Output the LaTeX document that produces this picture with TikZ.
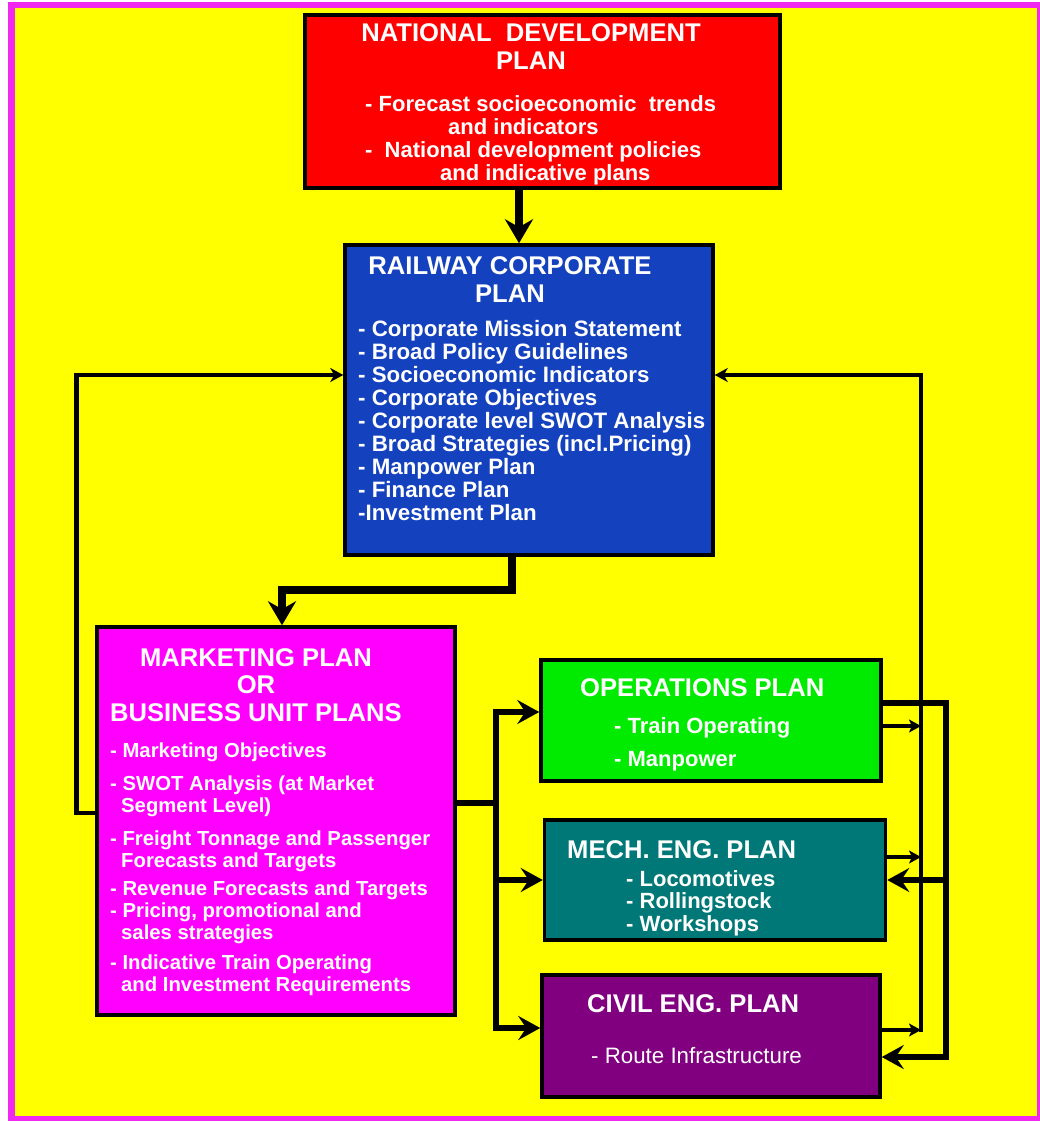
\documentclass[tikz,border=0pt]{standalone}
\usepackage{fontspec}
\setmainfont{Liberation Sans}
\usetikzlibrary{arrows.meta}

\definecolor{framemag}{RGB}{240,40,240}
\definecolor{bgyellow}{RGB}{255,255,0}
\definecolor{ndpred}{RGB}{255,0,0}
\definecolor{rcpblue}{RGB}{20,65,190}
\definecolor{mktmag}{RGB}{255,0,255}
\definecolor{opsgreen}{RGB}{0,235,0}
\definecolor{mechteal}{RGB}{0,120,120}
\definecolor{civpurple}{RGB}{128,0,128}

\tikzset{
  planbox/.style={draw=black, line width=3.5pt, inner sep=0pt},
  headtxt/.style={text=white, font=\bfseries\fontsize{25.6}{28}\selectfont, inner sep=0pt, align=center, anchor=north},
  bodytxt/.style={text=white, font=\bfseries\fontsize{22}{23.2}\selectfont, inner sep=0pt, align=left, anchor=north west},
  bigarrow/.style={line width=7.5pt, -{Stealth[length=24pt,width=28pt,inset=8pt]}},
  busarrow/.style={line width=5.5pt, line cap=rect, -{Stealth[length=22pt,width=24pt,inset=8pt]}},
  busline/.style={line width=5.5pt, line cap=rect},
  fbarrow/.style={line width=4.5pt, line cap=rect, -{Stealth[length=13pt,width=14pt,inset=4pt]}},
  tickarrow/.style={line width=3.8pt, -{Stealth[length=12pt,width=13pt,inset=3pt]}},
}

\begin{document}
\begin{tikzpicture}[x=1pt,y=-1pt]
\useasboundingbox (0,0) rectangle (1040,1121);
% Page and frame
\fill[white] (0,0) rectangle (1040,1121);
\draw[framemag, line width=6.5pt, fill=bgyellow] (11.5,5) rectangle (1040.5,1119.5);

% The plans
\node[planbox, fill=ndpred, minimum width=475pt, minimum height=173pt] (ndp) at (542.5,101.5) {};
\node[planbox, fill=rcpblue, minimum width=368pt, minimum height=310pt] (rcp) at (529,400) {};
\node[planbox, fill=mktmag, minimum width=358pt, minimum height=388pt] (mkt) at (276,821) {};
\node[planbox, fill=opsgreen, minimum width=340pt, minimum height=121pt] (ops) at (711,720.5) {};
\node[planbox, fill=mechteal, minimum width=341pt, minimum height=120pt] (mech) at (715,880) {};
\node[planbox, fill=civpurple, minimum width=338pt, minimum height=122pt] (civ) at (711,1036) {};

% National development plan
\node[headtxt] (ndp-head) at (531,23) {NATIONAL\ \ DEVELOPMENT\\PLAN};
\node[bodytxt] (ndp-body) at (365,95) {- Forecast socioeconomic\ \ trends\\\hspace*{83pt}and indicators\\-\ \ National development policies\\\hspace*{75pt}and indicative plans};

% Railway corporate plan
\node[headtxt] (rcp-head) at (510,256) {RAILWAY CORPORATE\\PLAN};
\node[bodytxt, font=\bfseries\fontsize{22.3}{23}\selectfont] (rcp-body) at (358,320) {- Corporate Mission Statement\\- Broad Policy Guidelines\\- Socioeconomic Indicators\\- Corporate Objectives\\- Corporate level SWOT Analysis\\- Broad Strategies (incl.Pricing)\\- Manpower Plan\\- Finance Plan\\-Investment Plan};

% Marketing plan
\node[headtxt, font=\bfseries\fontsize{25.6}{27.5}\selectfont] (mkt-head) at (256,648) {MARKETING PLAN\\OR\\BUSINESS UNIT PLANS};
\node[bodytxt, font=\bfseries\fontsize{20.3}{22}\selectfont] (mkt-body) at (110,743) {- Marketing Objectives\\[11pt]- SWOT Analysis (at Market\\\hspace*{11pt}Segment Level)\\[11pt]- Freight Tonnage and Passenger\\\hspace*{11pt}Forecasts and Targets\\[6pt]- Revenue Forecasts and Targets\\- Pricing, promotional and\\\hspace*{11pt}sales strategies\\[8pt]- Indicative Train Operating\\\hspace*{11pt}and Investment Requirements};

% Operations, mechanical and civil plans
\node[headtxt, anchor=north west] (ops-head) at (580,678) {OPERATIONS PLAN};
\node[bodytxt, font=\bfseries\fontsize{22}{33}\selectfont] (ops-body) at (614,717) {- Train Operating\\- Manpower};
\node[headtxt, anchor=north west] (mech-head) at (567,840) {MECH. ENG. PLAN};
\node[bodytxt, font=\bfseries\fontsize{22}{22.5}\selectfont] (mech-body) at (626,870) {- Locomotives\\- Rollingstock\\- Workshops};
\node[headtxt, anchor=north west] (civ-head) at (587,994) {CIVIL ENG. PLAN};
\node[bodytxt, font=\fontsize{22.3}{23}\selectfont] (civ-body) at (591,1047) {- Route Infrastructure};

% Bus lines
\coordinate (lbus) at (496,0);
\coordinate (ibus) at (921,0);
\coordinate (obus) at (946,0);

% Top-down flow
\draw[bigarrow] ([xshift=-23.5pt]ndp.south) -- ([xshift=-10pt]rcp.north);
\draw[bigarrow] ([xshift=-17pt]rcp.south) -- ++(0,33) -| ([xshift=6pt]mkt.north);

% Marketing back to Railway
\draw[fbarrow] ([yshift=8pt]mkt.west) -- ++(-19,0) |- ([yshift=25pt]rcp.west);

% Marketing out to the three plans
\draw[busline] ([yshift=18pt]mkt.east) -- ([yshift=18pt]mkt.east -| lbus);
\draw[busarrow] ([yshift=8pt]civ.west -| lbus) |- ([yshift=8.5pt]ops.west);
\draw[busarrow] ([yshift=8pt]civ.west -| lbus) -- ([yshift=8pt]civ.west);
\draw[busarrow] (mech.west -| lbus) -- (mech.west);

% Plans back to Railway (right loop)
\draw[fbarrow] ([yshift=6pt]civ.east -| ibus) |- ([yshift=25pt]rcp.east);
\draw[tickarrow] ([yshift=-5.5pt]ops.east) -- ([yshift=-5.5pt]ops.east -| ibus);
\draw[tickarrow] ([yshift=23pt]mech.east) -- ([yshift=23pt]mech.east -| ibus);
\draw[tickarrow] ([yshift=6pt]civ.east) -- ([yshift=6pt]civ.east -| ibus);

% Operations feeds Mech and Civil
\draw[busarrow] ([yshift=17.5pt]ops.east) -| ([yshift=-21pt]civ.east -| obus) -- ([yshift=-21pt]civ.east);
\draw[busarrow] (mech.east -| obus) -- (mech.east);

\end{tikzpicture}
\end{document}
